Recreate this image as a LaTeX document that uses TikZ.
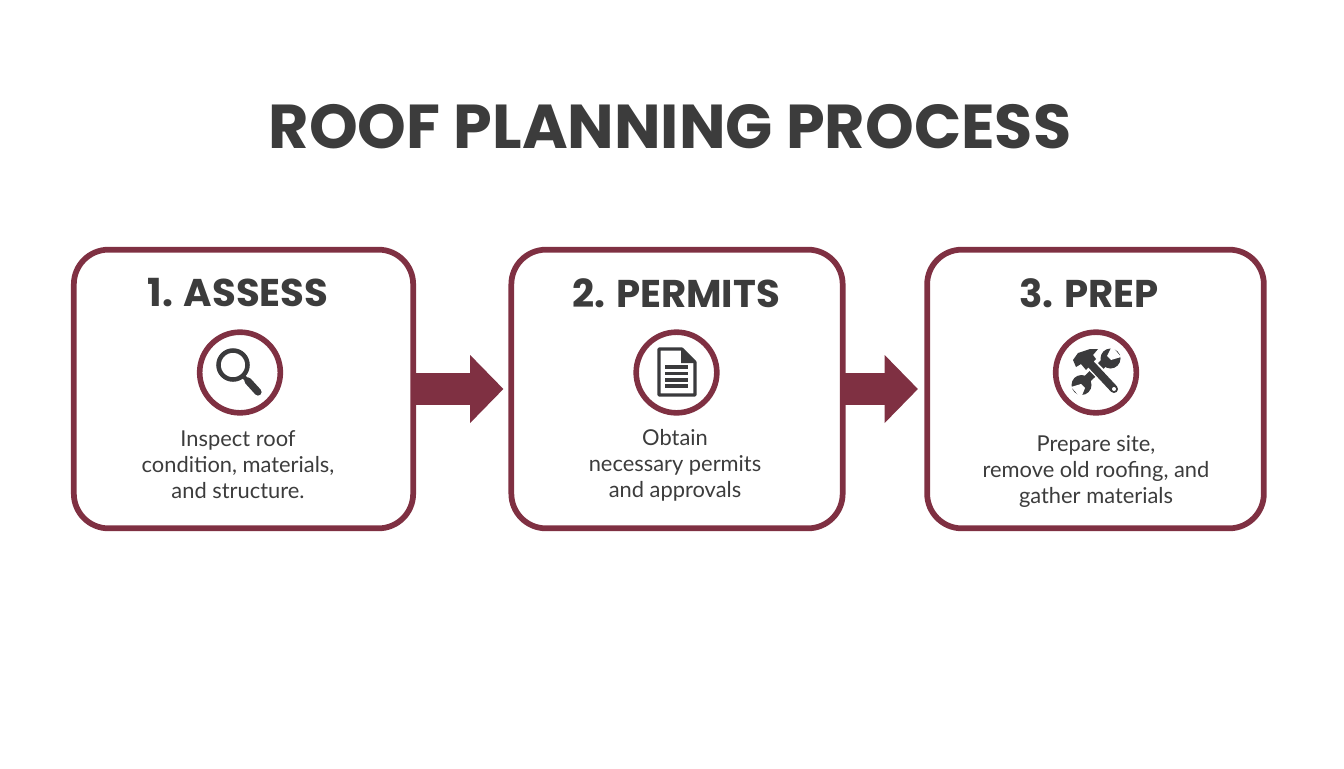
\documentclass[tikz,border=0pt]{standalone}
\usepackage{xcolor}
\usepackage{fontspec}
\usetikzlibrary{arrows.meta}
\setmainfont{Lato}
\newfontfamily\headfont{Poppins}
\definecolor{roofred}{HTML}{7F3042}
\definecolor{darktext}{HTML}{3C3C3C}
\definecolor{icongray}{HTML}{3A3A3C}

\begin{document}
\begin{tikzpicture}[x=0.75pt,y=-0.75pt,
    stagebox/.style={draw=roofred,line width=4.3pt,rounded corners=26pt,minimum height=209pt,inner sep=0},
    iconring/.style={draw=roofred,fill=white,line width=4.2pt,circle,minimum size=60.5pt,inner sep=0},
    flowarrow/.style={draw=roofred,line width=24pt,shorten <=-1.5pt,-{Triangle[length=25pt,width=49.5pt]}},
    stagehead/.style={text=darktext,font=\headfont\bfseries\fontsize{29}{34}\selectfont,inner sep=0},
    stagetext/.style={text=darktext,font=\fontsize{16.4}{19.5}\selectfont,align=center,inner sep=0}]
\useasboundingbox (0,0) rectangle (1344,768);

% Title
\node[text=darktext,font=\headfont\bfseries\fontsize{46.5}{52}\selectfont,inner sep=0] (title) at (670,127) {ROOF PLANNING PROCESS};

% Boxes
\node[stagebox,minimum width=254.5pt] (assess) at (243.5,389) {};
\node[stagebox,minimum width=248.5pt] (permits) at (677,389) {};
\node[stagebox,minimum width=252.5pt] (prep) at (1095.5,389) {};

% Arrows
\draw[flowarrow,shorten >=3.75pt] (assess) -- (permits);
\draw[flowarrow,shorten >=4.75pt] (permits) -- (prep);

% Headings
\node[stagehead] (assesshead) at (238,293) {1. ASSESS};
\node[stagehead] (permitshead) at (676,293) {2. PERMITS};
\node[stagehead] (prephead) at (1089,293) {3. PREP};

% Rings
\node[iconring] (assessring) at (240,372.5) {};
\node[iconring] (permitsring) at (676.5,372.5) {};
\node[iconring] (prepring) at (1096,372.5) {};

% Magnifier
\draw[icongray,line width=3.4pt] (233,365) circle (14.5);
\draw[icongray,line width=3pt] (243,376) -- (248,381);
\draw[icongray,line width=5.4pt,line cap=round] (248,381) -- (258,392);

% Document
\draw[icongray,line width=2.3pt,line join=round] (659,349) -- (682,349) -- (695,362) -- (695,395) -- (659,395) -- cycle;
\fill[icongray] (681,348) -- (696,363) -- (681,363) -- cycle;
\foreach \ypos in {367,373.5,380,386}
{
    \draw[icongray,line width=2.4pt] (665,\ypos) -- (688,\ypos);
}

% Wrench
\draw[icongray,line width=6pt] (1083,383) -- (1109,358);
\fill[icongray] (1081.5,385) circle (10);
\fill[icongray] (1110.5,358.5) circle (10);
\fill[white] (1071,387) -- (1081,384) -- (1085,388) -- (1081,398) -- cycle;
\fill[white] (1121,357) -- (1111,360) -- (1107,356) -- (1112,346) -- cycle;

% Hammer
\draw[white,line width=8.5pt] (1087,360) -- (1114,388);
\draw[icongray,line width=6pt,line cap=round] (1085,358) -- (1114,389);
\fill[white] (1114,389) circle (2);
\fill[icongray] (1073,360) -- (1078,353) -- (1090,349) -- (1098,349) -- (1093,355) -- (1096,359) -- (1086,370) -- (1081,364) -- (1076,367) -- cycle;

% Descriptions
\node[stagetext] (assesstext) at (238,465) {Inspect roof\\condition, materials,\\and structure.};
\node[stagetext] (permitstext) at (675,465.5) {Obtain\\necessary permits\\and approvals};
\node[stagetext] (preptext) at (1096,471.5) {Prepare site,\\remove old roofing, and\\gather materials};
\end{tikzpicture}
\end{document}
